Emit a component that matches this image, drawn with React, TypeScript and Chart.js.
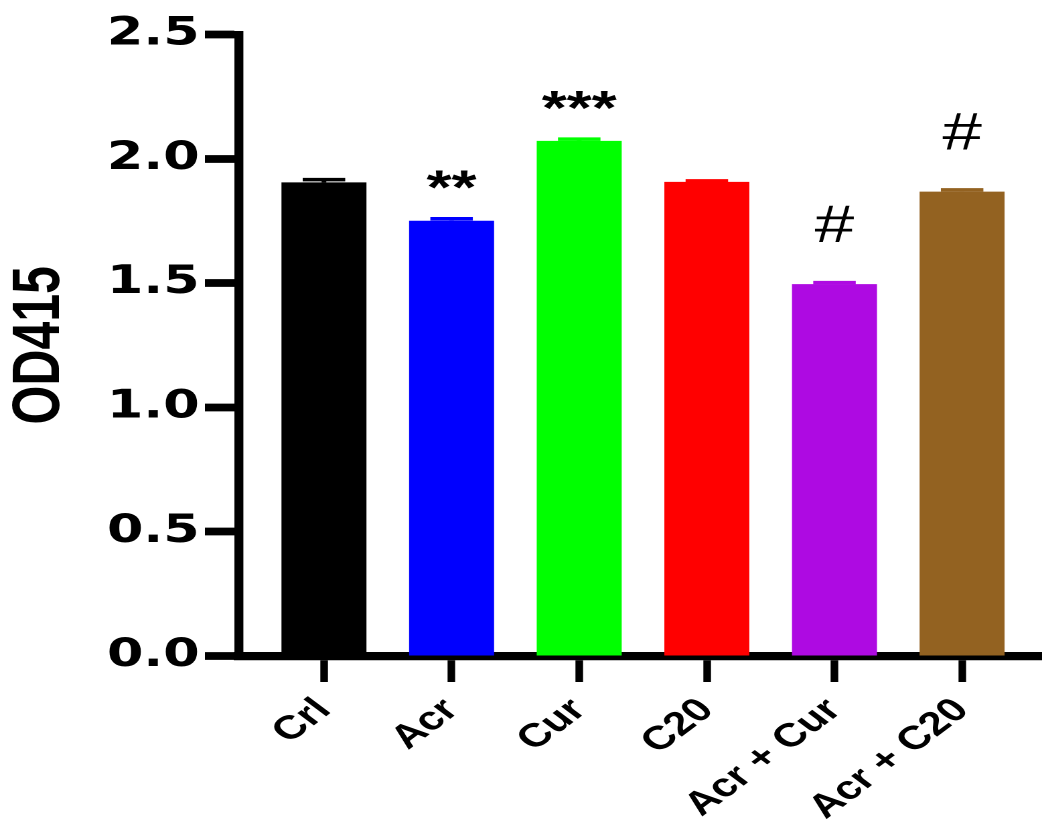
import React, { useEffect, useRef } from "react";
import { Chart, registerables } from "chart.js";

Chart.register(...registerables);

// ---- data ----
const categories = ["Crl", "Acr", "Cur", "C20", "Acr + Cur", "Acr + C20"];
const meanValues = [1.905, 1.751, 2.072, 1.907, 1.496, 1.868];
const errorValues = [0.011, 0.008, 0.007, 0.004, 0.006, 0.007];
const significance = ["", "**", "***", "", "#", "#"];
const barColors = ["#000000", "#0000FF", "#00FF00", "#FF0000", "#AE0AE2", "#936221"];
const yTickValues = [0, 0.5, 1.0, 1.5, 2.0, 2.5];
const yTitle = "OD415";

// The reference figure is horizontally stretched; render narrower and stretch via CSS.
const DISPLAY_W = 1042;
const DISPLAY_H = 824;
const STRETCH = 1.34;
const CANVAS_W = Math.round(DISPLAY_W / STRETCH);
const FONT = '"Liberation Sans", Arial, Helvetica, sans-serif';

const errorBarPlugin = {
  id: "errorBarsAndMarks",
  afterDatasetsDraw(chart: any) {
    const meta = chart.getDatasetMeta(0);
    const yScale = chart.scales.y;
    const ctx = chart.ctx;
    ctx.save();
    meta.data.forEach((bar: any, i: number) => {
      const tip = yScale.getPixelForValue(meanValues[i] + errorValues[i]);
      const half = bar.width / 4;
      ctx.strokeStyle = barColors[i];
      ctx.lineWidth = 3.5;
      ctx.beginPath();
      ctx.moveTo(bar.x, bar.y);
      ctx.lineTo(bar.x, tip);
      ctx.stroke();
      ctx.beginPath();
      ctx.moveTo(bar.x - half, tip);
      ctx.lineTo(bar.x + half, tip);
      ctx.stroke();
    });
    meta.data.forEach((bar: any, i: number) => {
      const s = significance[i];
      if (!s) return;
      const tip = yScale.getPixelForValue(meanValues[i] + errorValues[i]);
      const isHash = s.indexOf("#") >= 0;
      ctx.font = isHash ? `53px ${FONT}` : `bold 48px ${FONT}`;
      ctx.fillStyle = "#000";
      ctx.textAlign = "center";
      ctx.textBaseline = "alphabetic";
      const m = ctx.measureText(s);
      const inkMid = (m.actualBoundingBoxAscent - m.actualBoundingBoxDescent) / 2;
      const centerY = tip - (isHash ? 59 : 39);
      ctx.fillText(s, bar.x, centerY + inkMid);
    });
    ctx.restore();
  },
};

export default function App() {
  const canvasRef = useRef<HTMLCanvasElement | null>(null);

  useEffect(() => {
    const canvas = canvasRef.current;
    if (!canvas) return;
    const chart = new Chart(canvas, {
      type: "bar",
      data: {
        datasets: [
          {
            data: meanValues.map((v, i) => ({ x: i, y: v })),
            backgroundColor: barColors,
            borderWidth: 0,
            categoryPercentage: 1,
            barPercentage: 0.666,
          },
        ],
      },
      options: {
        responsive: false,
        devicePixelRatio: 2,
        animation: false,
        events: [],
        layout: { padding: { top: 34.5, left: 0, right: 0, bottom: 0 } },
        plugins: {
          legend: { display: false },
          tooltip: { enabled: false },
          title: { display: false },
        },
        scales: {
          x: {
            type: "linear",
            min: -0.666,
            max: 5.626,
            offset: false,
            afterBuildTicks: (scale: any) => {
              scale.ticks = categories.map((_, i) => ({ value: i }));
            },
            afterFit: (scale: any) => {
              scale.height = 168;
            },
            ticks: {
              autoSkip: false,
              minRotation: 45,
              maxRotation: 45,
              padding: 9,
              color: "#000",
              font: { family: FONT, weight: "bold", size: 33 },
              callback: (v: any) => categories[Math.round(Number(v))],
            },
            grid: {
              offset: false,
              drawOnChartArea: false,
              drawTicks: true,
              tickLength: 26,
              tickWidth: 5.7,
              tickColor: "#000",
              color: "#000",
            },
            border: { display: true, color: "#000", width: 8.3 },
          },
          y: {
            type: "linear",
            min: 0,
            max: 2.5,
            afterBuildTicks: (scale: any) => {
              scale.ticks = yTickValues.map((v) => ({ value: v }));
            },
            afterFit: (scale: any) => {
              scale.width = 178.4;
            },
            ticks: {
              padding: 4,
              color: "#000",
              font: { family: '"DejaVu Sans", sans-serif', weight: "bold", size: 39 },
              callback: (v: any) => Number(v).toFixed(1),
            },
            grid: {
              drawOnChartArea: false,
              drawTicks: true,
              tickLength: 25.4,
              tickWidth: 7.7,
              tickColor: "#000",
              color: "#000",
            },
            border: { display: true, color: "#000", width: 6.7 },
            title: {
              display: true,
              text: yTitle,
              color: "#000",
              padding: 0,
              font: { family: FONT, weight: "bold", size: 50 },
            },
          },
        },
      },
      plugins: [errorBarPlugin],
    } as any);
    return () => chart.destroy();
  }, []);

  return (
    <div
      style={{
        position: "fixed",
        left: 0,
        top: 0,
        width: DISPLAY_W,
        height: DISPLAY_H,
        background: "#fff",
        overflow: "hidden",
      }}
    >
      <canvas
        ref={canvasRef}
        width={CANVAS_W}
        height={DISPLAY_H}
        style={{ width: `${DISPLAY_W}px`, height: `${DISPLAY_H}px`, display: "block" }}
      />
    </div>
  );
}
